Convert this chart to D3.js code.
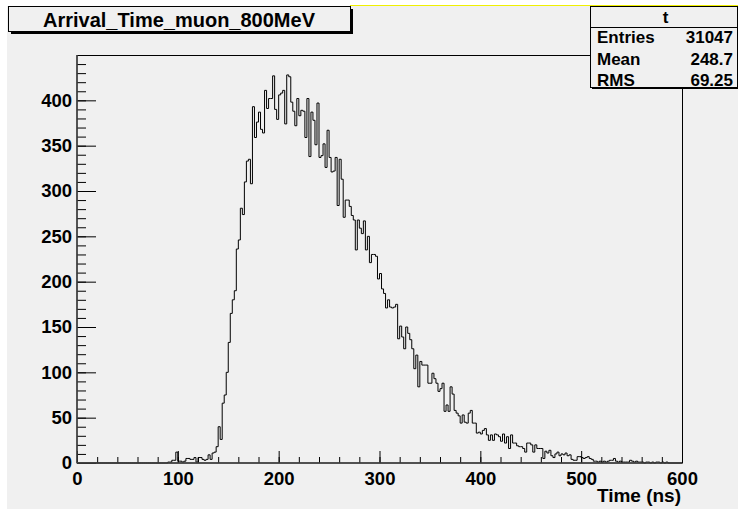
<!DOCTYPE html>
<html>
<head>
<meta charset="utf-8">
<script src="https://cdn.jsdelivr.net/npm/d3@7"></script>
<style>
  body { margin: 0; background: #ffffff; }
  text { font-family: "Liberation Sans", Arial, Helvetica, sans-serif; font-weight: bold; }
</style>
</head>
<body>
<div id="chart"></div>
<script>
// histogram "t", 300 bins of 2 ns between 0 and 600 ns
const histName = "t";
const histTitle = "Arrival_Time_muon_800MeV";
const xTitle = "Time (ns)";
const xMin = 0, xMax = 600, nBins = 300;
const yMax = 450;
const xTicks = [0, 100, 200, 300, 400, 500, 600];
const yTicks = [0, 50, 100, 150, 200, 250, 300, 350, 400];
const statLabels = ["Entries", "Mean", "RMS"];
const statValues = ["31047", "248.7", "69.25"];

const counts = [
  0, 0, 0, 0, 0, 0, 0, 0, 0, 0,
  0, 0, 0, 0, 0, 0, 0, 0, 0, 0,
  0, 0, 0, 0, 0, 0, 0, 0, 0, 0,
  0, 0, 0, 0, 0, 0, 0, 0, 0, 0,
  0, 0, 0, 0, 0, 1, 1, 3, 3, 12,
  2, 2, 1, 2, 5, 5, 4, 4, 6, 1,
  6, 6, 4, 3, 4, 9, 4, 11, 12, 18,
  40, 26, 66, 75, 100, 133, 165, 180, 190, 236,
  246, 281, 274, 310, 333, 335, 308, 393, 359, 376,
  387, 368, 364, 411, 391, 402, 402, 427, 390, 379,
  406, 408, 411, 374, 428, 426, 398, 388, 372, 402,
  383, 389, 388, 359, 402, 338, 387, 378, 351, 397,
  337, 339, 352, 326, 367, 337, 321, 322, 337, 284,
  335, 313, 271, 290, 290, 283, 273, 268, 235, 268,
  259, 253, 267, 235, 250, 221, 230, 230, 228, 203,
  209, 192, 187, 171, 180, 172, 171, 172, 175, 137,
  151, 139, 126, 150, 143, 136, 126, 104, 119, 84,
  112, 108, 108, 108, 88, 88, 99, 93, 88, 79,
  82, 88, 57, 64, 57, 84, 76, 58, 55, 52,
  44, 53, 45, 44, 55, 58, 44, 44, 33, 34,
  32, 36, 38, 31, 25, 31, 25, 32, 31, 29,
  24, 32, 22, 29, 16, 31, 22, 22, 19, 18,
  18, 16, 12, 22, 22, 20, 12, 20, 16, 16,
  16, 5, 13, 11, 14, 8, 6, 10, 12, 8,
  10, 9, 11, 8, 9, 4, 3, 3, 7, 7,
  6, 5, 6, 7, 5, 4, 2, 2, 1, 2,
  1, 2, 1, 2, 3, 3, 5, 2, 1, 2,
  1, 1, 1, 1, 3, 2, 1, 2, 1, 1,
  1, 0, 1, 1, 0, 1, 0, 1, 1, 0,
  1, 0, 1, 0, 0, 0, 0, 0, 0, 0
];

const width = 738, height = 509;
const frame = { left: 77, right: 682, top: 55, bottom: 463 };
const bg = "#f0f0f0";

const svg = d3.select("#chart").append("svg")
  .attr("width", width)
  .attr("height", height);

svg.append("rect").attr("width", width).attr("height", height).attr("fill", "#ffffff");
svg.append("rect")
  .attr("x", 7).attr("y", 6)
  .attr("width", width - 7).attr("height", height - 6)
  .attr("fill", bg);
svg.append("line")
  .attr("x1", 350).attr("x2", width)
  .attr("y1", 5.5).attr("y2", 5.5)
  .attr("stroke", "#f0f000");

const x = d3.scaleLinear().domain([xMin, xMax]).range([frame.left, frame.right]);
const y = d3.scaleLinear().domain([0, yMax]).range([frame.bottom, frame.top]);
const binWidth = (xMax - xMin) / nBins;

// frame
svg.append("rect")
  .attr("x", frame.left).attr("y", frame.top + 0.5)
  .attr("width", frame.right - frame.left + 0.5)
  .attr("height", frame.bottom - frame.top - 0.5)
  .attr("fill", "none")
  .attr("stroke", "#000");

// histogram outline
const pts = counts.map((c, i) => [xMin + i * binWidth, c]);
pts.push([xMax, counts[nBins - 1]]);
const line = d3.line()
  .x(d => x(d[0]))
  .y(d => y(d[1]))
  .curve(d3.curveStepAfter);
svg.append("path")
  .datum(pts)
  .attr("d", line)
  .attr("fill", "none")
  .attr("stroke", "#000")
  .attr("stroke-width", 1);

// axes
function styleAxis(g) {
  g.select(".domain").remove();
  g.attr("font-family", null).attr("font-size", null);
  g.selectAll("line").attr("stroke", "#000");
  g.selectAll("text").attr("font-size", 18.5).attr("fill", "#000");
}

svg.append("g")
  .attr("transform", `translate(0,${frame.bottom})`)
  .call(d3.axisBottom(x).tickValues(d3.range(xMin, xMax + 1, 20)).tickSize(-6).tickFormat(""))
  .call(styleAxis);
svg.append("g")
  .attr("transform", `translate(0,${frame.bottom})`)
  .call(d3.axisBottom(x).tickValues(xTicks).tickSize(-12).tickPadding(9).tickFormat(d3.format("d")))
  .call(styleAxis);

svg.append("g")
  .attr("transform", `translate(${frame.left},0)`)
  .call(d3.axisLeft(y).tickValues(d3.range(0, yMax, 10)).tickSize(-9).tickFormat(""))
  .call(styleAxis);
svg.append("g")
  .attr("transform", `translate(${frame.left},0)`)
  .call(d3.axisLeft(y).tickValues(yTicks).tickSize(-19).tickPadding(5).tickFormat(d3.format("d")))
  .call(styleAxis);

// axis lines (drawn last, slightly soft like the original)
svg.append("line")
  .attr("x1", frame.left).attr("x2", frame.left)
  .attr("y1", frame.top).attr("y2", frame.bottom)
  .attr("stroke", "#444").attr("stroke-width", 1.4);
svg.append("line")
  .attr("x1", frame.left).attr("x2", frame.right)
  .attr("y1", frame.bottom).attr("y2", frame.bottom)
  .attr("stroke", "#444").attr("stroke-width", 1.4);

svg.append("text")
  .attr("x", frame.right - 1).attr("y", 502)
  .attr("text-anchor", "end")
  .attr("font-size", 19)
  .text(xTitle);

// title box
const tb = { x: 8, y: 6, w: 342, h: 25 };
svg.append("rect")
  .attr("x", tb.x + 3).attr("y", tb.y + 3)
  .attr("width", tb.w).attr("height", tb.h)
  .attr("fill", "#000");
svg.append("rect")
  .attr("x", tb.x + 0.5).attr("y", tb.y + 0.5)
  .attr("width", tb.w).attr("height", tb.h)
  .attr("fill", bg).attr("stroke", "#000");
svg.append("text")
  .attr("x", tb.x + tb.w / 2).attr("y", 27)
  .attr("text-anchor", "middle")
  .attr("font-size", 20)
  .text(histTitle);

// stats box
const sb = { x: 590, y: 6, w: 147, h: 81 };
svg.append("rect")
  .attr("x", sb.x + 2).attr("y", sb.y + 2)
  .attr("width", sb.w).attr("height", sb.h)
  .attr("fill", "#000");
svg.append("rect")
  .attr("x", sb.x + 0.5).attr("y", sb.y + 0.5)
  .attr("width", sb.w).attr("height", sb.h)
  .attr("fill", bg).attr("stroke", "#000");
svg.append("line")
  .attr("x1", sb.x).attr("x2", sb.x + sb.w)
  .attr("y1", 27.5).attr("y2", 27.5)
  .attr("stroke", "#000");
svg.append("text")
  .attr("x", sb.x + sb.w / 2 + 2).attr("y", 23)
  .attr("text-anchor", "middle")
  .attr("font-size", 17)
  .text(histName);

const rowY = [43, 64.5, 86];
statLabels.forEach((lab, i) => {
  svg.append("text")
    .attr("x", 597).attr("y", rowY[i])
    .attr("font-size", 17)
    .text(lab);
  svg.append("text")
    .attr("x", 733).attr("y", rowY[i])
    .attr("text-anchor", "end")
    .attr("font-size", 17)
    .text(statValues[i]);
});
</script>
</body>
</html>
